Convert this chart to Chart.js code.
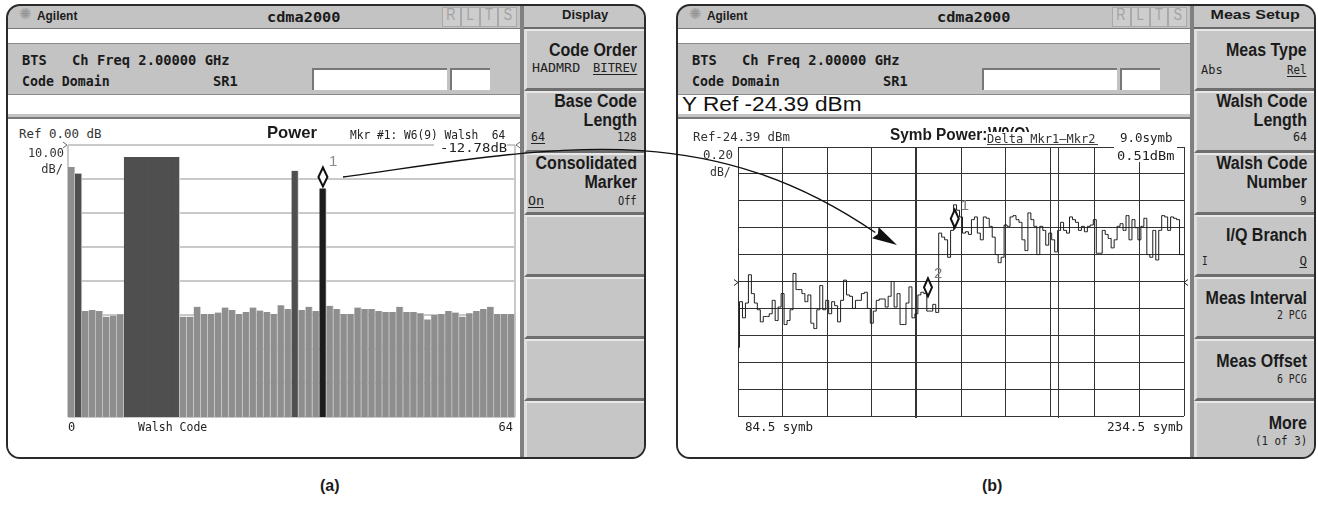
<!DOCTYPE html>
<html>
<head>
<meta charset="utf-8">
<title>cdma2000 code domain power / symbol power</title>
<script src="https://cdn.jsdelivr.net/npm/chart.js@4.4.1/dist/chart.umd.min.js"></script>
<style>
  html, body { margin: 0; padding: 0; background: #fff; }
  #page { position: relative; width: 1318px; height: 513px; overflow: hidden; background: #fff; }
  .a { position: absolute; box-sizing: border-box; }
  .t { position: absolute; white-space: pre; line-height: 1; color: #1b1b1b; }
  canvas { position: absolute; }
</style>
</head>
<body>
<div id="page"></div>
<script>
// ---------- (a) code domain power, one bar per Walsh code ----------
const walshCodes = Array.from({ length: 64 }, (_, i) => i);
const walshPowerDb = [
  -6.5, -8.4, -48.8, -48.5, -48.8, -50.5, -50.2, -49.8,
  -3.5, -3.5, -3.5, -3.5, -3.5, -3.5, -3.5, -3.5,
  -50.5, -50.5, -47.6, -49.7, -49.7, -49.3, -47.8, -48.5,
  -49.7, -49.1, -47.8, -48.7, -49.1, -49.7, -47.1, -48.2,
  -7.6, -48.5, -47.6, -48.8, -12.78, -47.3, -48.2, -49.7,
  -49.7, -47.8, -48.2, -48.2, -48.8, -49.1, -49.1, -47.6,
  -49.1, -49.1, -49.5, -51.3, -50.0, -49.7, -48.8, -49.3,
  -50.5, -49.5, -48.8, -48.2, -47.6, -49.7, -49.7, -49.7
];
const activeCodes = [1, 8, 9, 10, 11, 12, 13, 14, 15, 32];
const markerCode = 36;
const powerFloorDb = -80;
const powerTicksDb = [0, -10, -20, -30, -40, -50, -60, -70, -80];
const walshAxisLabels = ['0', 'Walsh Code', '64'];

// ---------- (b) symbol power of W9(Q) ----------
const symbStart = 84.5;
const traceStartDb = -25.88;
const symbPowerLow = [
  -25.54, -25.66, -25.55, -25.34, -25.48, -25.55, -25.60, -25.69, -25.65, -25.65,
  -25.63, -25.53, -25.68, -25.58, -25.48, -25.71, -25.68, -25.60, -25.33, -25.45,
  -25.45, -25.48, -25.54, -25.49, -25.70, -25.74, -25.60, -25.42, -25.60, -25.53,
  -25.63, -25.54, -25.57, -25.69, -25.53, -25.38, -25.49, -25.50, -25.59, -25.53,
  -25.53, -25.48, -25.47, -25.59, -25.70, -25.61, -25.53, -25.52, -25.52, -25.58,
  -25.50, -25.39, -25.58, -25.48, -25.71, -25.71, -25.55, -25.43, -25.66, -25.63,
  -25.49, -25.47, -25.48, -25.61, -25.61, -25.56, -25.62
];
const symbPowerHigh = [
  -25.03, -25.06, -25.08, -25.21, -25.01, -24.82, -24.86, -24.91, -25.03, -25.02,
  -25.04, -24.93, -24.91, -25.03, -25.08, -24.91, -24.92, -24.98, -25.06, -25.19,
  -25.25, -25.21, -24.97, -24.98, -24.91, -24.90, -24.93, -24.95, -25.08, -25.16,
  -24.88, -24.93, -24.98, -25.19, -24.98, -25.01, -25.12, -25.03, -25.08, -25.17,
  -25.01, -24.95, -25.01, -25.03, -24.91, -24.93, -24.95, -25.01, -24.98, -25.02,
  -24.98, -24.97, -24.93, -25.18, -25.18, -25.01, -25.04, -25.07, -25.14, -25.08,
  -24.98, -24.96, -25.01, -24.90, -25.08, -24.93, -24.99, -25.08, -24.98, -24.92,
  -25.19, -25.21, -25.01, -25.23, -25.01, -24.90, -24.91, -25.01, -24.91, -24.92,
  -24.93, -25.19, -25.19
];
const symbTicks = [84.5, 99.5, 114.5, 129.5, 144.5, 159.5, 174.5, 189.5, 204.5, 219.5, 234.5];
const symbPowerTicks = [-26.39, -26.19, -25.99, -25.79, -25.59, -25.39, -25.19, -24.99, -24.79, -24.59, -24.39];
const pcgBoundarySymb = 144.5;
const extraLineSymb = 192;
const refLevelDb = -25.39;
const markerSymb = [157.4, 148.4];
const markerDb = [-24.99, -25.50];
const markerNames = ['1', '2'];
const symbAxisLabels = ['84.5 symb', '234.5 symb'];

// ---------- page helpers ----------
const page = document.getElementById('page');
const pageCtx = { root: page, ox: 0, oy: 0, w: 1318 };

function frame(ox) {
  const f = document.createElement('div');
  f.className = 'a';
  Object.assign(f.style, {
    left: (ox + 6) + 'px', top: '4px', width: '640px', height: '455px',
    border: '2px solid #2a2a2a', borderRadius: '14px', background: '#c3c3c3', overflow: 'hidden'
  });
  page.appendChild(f);
  return { root: f, ox: 8, oy: 6, w: 636 };
}

function box(c, x, y, w, h, css) {
  const d = document.createElement('div');
  d.className = 'a';
  Object.assign(d.style, { left: (x - c.ox) + 'px', top: (y - c.oy) + 'px', width: w + 'px', height: h + 'px' }, css || {});
  c.root.appendChild(d);
  return d;
}

function label(c, x, cap, s, o) {
  o = o || {};
  const size = o.size || 12;
  const mono = !!o.mono;
  const d = document.createElement('div');
  d.className = 't';
  d.textContent = s;
  d.style.fontFamily = mono ? '"DejaVu Sans Mono", monospace' : '"Liberation Sans", Arial, sans-serif';
  d.style.fontWeight = o.bold ? 'bold' : 'normal';
  d.style.fontSize = size + 'px';
  if (o.color) d.style.color = o.color;
  if (o.bg) d.style.background = o.bg;
  if (o.u) { d.style.textDecoration = 'underline'; d.style.textUnderlineOffset = '2px'; }
  d.style.top = (cap - c.oy - size * (mono ? 0.117 : 0.13)) + 'px';
  const cx = x - c.ox;
  const al = o.align || 'left';
  if (al === 'right') { d.style.right = (c.w - cx) + 'px'; d.style.transformOrigin = '100% 50%'; }
  else { d.style.left = cx + 'px'; d.style.transformOrigin = '0 50%'; }
  c.root.appendChild(d);
  const nat = d.offsetWidth;
  const sx = o.w ? o.w / nat : (o.sx || 1);
  if (al === 'center') d.style.transform = `translateX(${-nat * sx / 2}px) scaleX(${sx})`;
  else d.style.transform = `scaleX(${sx})`;
  return d;
}

function instrumentShell(c, menuTitle, menuTitleW, keys) {
  // title bar
  label(c, 19, 8, '\u273A', { size: 15, color: '#9a9a9a' });
  label(c, 37, 12, 'Agilent', { bold: true, size: 12.5, w: 40 });
  label(c, 267, 12, 'cdma2000', { mono: true, bold: true, size: 14, w: 73 });
  ['R', 'L', 'T', 'S'].forEach((ch, i) => {
    box(c, 442 + i * 18.75, 7, 18.75, 20, { border: '1px solid #a9a9a9', background: '#cdcdcd' });
    label(c, 442 + i * 18.75 + 9.4, 9, ch, { size: 16, color: '#a2a2a2', align: 'center', sx: 0.8 });
  });
  box(c, 8, 28, 514, 1, { background: '#7a7a7a' });
  box(c, 8, 29, 514, 15, { background: '#fff', borderBottom: '1px solid #8a8a8a' });
  // settings band
  label(c, 22, 56, 'BTS', { mono: true, bold: true, size: 13.7, w: 25 });
  label(c, 72, 56, 'Ch Freq 2.00000 GHz', { mono: true, bold: true, size: 13.7, w: 158 });
  label(c, 22, 77, 'Code Domain', { mono: true, bold: true, size: 13.7, w: 88 });
  label(c, 213, 77, 'SR1', { mono: true, bold: true, size: 13.7, w: 25 });
  box(c, 312, 68, 135, 22, { background: '#fff', borderTop: '2px solid #777', borderLeft: '2px solid #777' });
  box(c, 450, 68, 40, 22, { background: '#fff', borderTop: '2px solid #777', borderLeft: '2px solid #777' });
  box(c, 8, 94, 514, 20, { background: '#fff', borderTop: '1px solid #8a8a8a' });
  // graticule area
  box(c, 8, 117, 512, 360, { background: '#fff', borderTop: '2px solid #7a7a7a' });
  // softkey column
  box(c, 520, 6, 4, 460, { background: '#808080' });
  box(c, 524, 6, 122, 23, { background: '#c6c6c6', borderBottom: '2px solid #6a6a6a' });
  label(c, 585, 10, menuTitle, { bold: true, size: 13, align: 'center', w: menuTitleW });
  [29, 91, 153, 215, 277, 339, 401].forEach(top => {
    box(c, 524, top, 122, 62, {
      background: '#c6c6c6', borderTop: '2px solid #e8e8e8', borderLeft: '3px solid #e0e0e0',
      borderBottom: '3px solid #6e6e6e', borderRight: '1px solid #8a8a8a'
    });
  });
  keys.forEach(k => {
    if (k.b) label(c, 637, k.y, k.s, { bold: true, size: 18, align: 'right', sx: 0.89 });
    else label(c, k.x || 637, k.y, k.s, { mono: true, size: 12.5, align: k.x ? 'left' : 'right', u: k.u, w: k.w, color: '#222' });
  });
}

function diamond(ctx, x, cy, hw, hh) {
  ctx.beginPath();
  ctx.moveTo(x, cy - hh); ctx.lineTo(x + hw, cy); ctx.lineTo(x, cy + hh); ctx.lineTo(x - hw, cy); ctx.closePath();
  ctx.fillStyle = '#fff'; ctx.fill();
  ctx.lineWidth = 2; ctx.strokeStyle = '#111'; ctx.stroke();
}

function addCanvas(c, x, y, w, h) {
  const cv = document.createElement('canvas');
  cv.width = w; cv.height = h;
  cv.style.left = (x - c.ox) + 'px'; cv.style.top = (y - c.oy) + 'px';
  cv.style.width = w + 'px'; cv.style.height = h + 'px';
  c.root.appendChild(cv);
  return cv;
}

// ================= left instrument (a) =================
const L = frame(0);
instrumentShell(L, 'Display', 46, [
  { b: 1, s: 'Code Order', y: 43 }, { x: 532, s: 'HADMRD', y: 63, w: 48 }, { s: 'BITREV', y: 63, u: 1, w: 44 },
  { b: 1, s: 'Base Code', y: 94 }, { b: 1, s: 'Length', y: 113 }, { x: 531, s: '64', y: 132, u: 1, w: 14 }, { s: '128', y: 132, w: 20 },
  { b: 1, s: 'Consolidated', y: 156 }, { b: 1, s: 'Marker', y: 175 }, { x: 528, s: 'On', y: 196, u: 1, w: 16 }, { s: 'Off', y: 196, w: 19 }
]);

const leftDecor = {
  id: 'leftDecor',
  beforeDatasetsDraw(chart) {
    const { ctx, chartArea: a } = chart;
    ctx.save();
    ctx.strokeStyle = '#c9c9c9'; ctx.lineWidth = 2;
    ctx.beginPath();
    ctx.moveTo(a.left, a.top); ctx.lineTo(a.left, a.bottom);
    ctx.moveTo(a.right, a.top); ctx.lineTo(a.right, a.bottom);
    ctx.stroke();
    ctx.restore();
  },
  afterDatasetsDraw(chart) {
    const { ctx, chartArea: a, scales: { x, y } } = chart;
    ctx.save();
    const px = x.getPixelForValue(markerCode);
    const top = y.getPixelForValue(walshPowerDb[markerCode]);
    diamond(ctx, px, top - 11.5, 4.5, 9.5);
    ctx.fillStyle = '#8a8a8a';
    ctx.font = '15px "Liberation Sans", Arial, sans-serif';
    ctx.fillText('1', px + 6, top - 22);
    // reference level chevrons
    ctx.strokeStyle = '#666'; ctx.lineWidth = 1;
    const ry = y.getPixelForValue(0);
    ctx.beginPath();
    ctx.moveTo(a.left - 5, ry - 3); ctx.lineTo(a.left - 1, ry); ctx.lineTo(a.left - 5, ry + 3);
    ctx.moveTo(a.right + 5, ry - 3); ctx.lineTo(a.right + 1, ry); ctx.lineTo(a.right + 5, ry + 3);
    ctx.stroke();
    ctx.restore();
  }
};

const cvL = addCanvas(L, 62, 141, 459, 280);
new Chart(cvL.getContext('2d'), {
  type: 'bar',
  data: {
    labels: walshCodes.map(String),
    datasets: [{
      data: walshPowerDb.map(v => [powerFloorDb, v]),
      backgroundColor: walshCodes.map(c => c === markerCode ? '#1c1c1c' : activeCodes.includes(c) ? '#4f4f4f' : '#8e8e8e'),
      borderColor: walshCodes.map(c => (c >= 8 && c <= 14) ? '#4f4f4f' : '#d4d4d4'),
      borderWidth: { top: 1, right: 1, left: 0, bottom: 0 },
      borderSkipped: 'start',
      barPercentage: 1,
      categoryPercentage: 1
    }]
  },
  options: {
    responsive: false, animation: false, devicePixelRatio: 1,
    layout: { padding: { left: 6, right: 6, top: 4, bottom: 4 } },
    plugins: { legend: { display: false }, tooltip: { enabled: false } },
    scales: {
      x: { display: false },
      y: {
        min: powerFloorDb, max: 0,
        afterBuildTicks: s => { s.ticks = powerTicksDb.map(v => ({ value: v })); },
        ticks: { display: false },
        grid: { color: '#c9c9c9', lineWidth: 2, drawTicks: false },
        border: { display: false }
      }
    }
  },
  plugins: [leftDecor]
});

label(L, 19, 129, 'Ref 0.00 dB', { mono: true, size: 12, w: 82, color: '#333' });
label(L, 267, 126, 'Power', { bold: true, size: 17, w: 50 });
label(L, 350, 131, 'Mkr #1: W6(9) Walsh  64', { mono: true, size: 11.5, w: 155, color: '#222' });
box(L, 434, 140, 73, 16, { background: '#fff' });
label(L, 440, 143, '-12.78dB', { mono: true, size: 12.5, w: 67, color: '#222' });
label(L, 64, 148, '10.00', { mono: true, size: 12, align: 'right', w: 36, color: '#333' });
label(L, 63, 164, 'dB/', { mono: true, size: 12, align: 'right', w: 22, color: '#333' });
label(L, 68, 422, walshAxisLabels[0], { mono: true, size: 12, w: 7, color: '#222' });
label(L, 138, 422, walshAxisLabels[1], { mono: true, size: 12, w: 69, color: '#222' });
label(L, 513, 422, walshAxisLabels[2], { mono: true, size: 12, align: 'right', w: 14, color: '#222' });

// ================= right instrument (b) =================
const R = frame(670);
const rx = x => x - 670;
instrumentShell(R, 'Meas Setup', 89, [
  { b: 1, s: 'Meas Type', y: 43 }, { x: 531, s: 'Abs', y: 65, w: 22 }, { s: 'Rel', y: 65, u: 1, w: 20 },
  { b: 1, s: 'Walsh Code', y: 94 }, { b: 1, s: 'Length', y: 113 }, { s: '64', y: 132, w: 14 },
  { b: 1, s: 'Walsh Code', y: 156 }, { b: 1, s: 'Number', y: 175 }, { s: '9', y: 196, w: 7 },
  { b: 1, s: 'I/Q Branch', y: 228 }, { x: 532, s: 'I', y: 256, w: 6 }, { s: 'Q', y: 256, u: 1, w: 8 },
  { b: 1, s: 'Meas Interval', y: 291 }, { s: '2 PCG', y: 310, w: 30 },
  { b: 1, s: 'Meas Offset', y: 354 }, { s: '6 PCG', y: 374, w: 30 },
  { b: 1, s: 'More', y: 416 }, { s: '(1 of 3)', y: 436, w: 52 }
]);

const rightDecor = {
  id: 'rightDecor',
  afterDatasetsDraw(chart) {
    const { ctx, chartArea: a, scales: { x, y } } = chart;
    ctx.save();
    ctx.strokeStyle = '#3a3a3a'; ctx.lineWidth = 1;
    const ex = Math.round(x.getPixelForValue(extraLineSymb)) + 0.5;
    ctx.beginPath(); ctx.moveTo(ex, a.top); ctx.lineTo(ex, a.bottom + 2); ctx.stroke();
    const px = Math.round(x.getPixelForValue(pcgBoundarySymb));
    ctx.lineWidth = 2;
    ctx.beginPath(); ctx.moveTo(px, a.bottom); ctx.lineTo(px, a.bottom + 2); ctx.stroke();
    // reference level marks at both ends
    const ry = Math.round(y.getPixelForValue(refLevelDb)) + 0.5;
    ctx.lineWidth = 1; ctx.strokeStyle = '#222';
    ctx.beginPath();
    ctx.moveTo(a.left - 4, ry - 3); ctx.lineTo(a.left, ry); ctx.lineTo(a.left - 4, ry + 3);
    ctx.moveTo(a.right + 4, ry - 3); ctx.lineTo(a.right, ry); ctx.lineTo(a.right + 4, ry + 3);
    ctx.stroke();
    // markers
    markerSymb.forEach((s, i) => {
      const mx = x.getPixelForValue(s);
      const my = y.getPixelForValue(markerDb[i]);
      diamond(ctx, mx, my - 9, 4, 9);
      ctx.fillStyle = '#7a7a7a';
      ctx.font = '15px "Liberation Sans", Arial, sans-serif';
      ctx.fillText(markerNames[i], mx + 6, my - 18);
    });
    ctx.restore();
  }
};

const tracePoints = [traceStartDb, ...symbPowerLow, ...symbPowerHigh].map((v, i) => ({ x: symbStart + i, y: v }));
const cvR = addCanvas(R, rx(732), 143, 458, 277);
new Chart(cvR.getContext('2d'), {
  type: 'line',
  data: {
    datasets: [{
      data: tracePoints,
      stepped: 'middle',
      borderColor: '#1e1e1e',
      borderWidth: 1,
      pointRadius: 0,
      fill: false
    }]
  },
  options: {
    responsive: false, animation: false, devicePixelRatio: 1,
    layout: { padding: { left: 6, right: 6, top: 4, bottom: 4 } },
    plugins: { legend: { display: false }, tooltip: { enabled: false } },
    scales: {
      x: {
        type: 'linear', min: symbTicks[0], max: symbTicks[symbTicks.length - 1],
        afterBuildTicks: s => { s.ticks = symbTicks.map(v => ({ value: v })); },
        ticks: { display: false },
        grid: { color: '#333', lineWidth: c => (c.tick && c.tick.value === pcgBoundarySymb ? 2 : 1), drawTicks: false },
        border: { display: false }
      },
      y: {
        type: 'linear', min: symbPowerTicks[0], max: symbPowerTicks[symbPowerTicks.length - 1],
        afterBuildTicks: s => { s.ticks = symbPowerTicks.map(v => ({ value: v })); },
        ticks: { display: false },
        grid: { color: '#333', lineWidth: 1, drawTicks: false },
        border: { display: false }
      }
    }
  },
  plugins: [rightDecor]
});

label(R, rx(682), 98, 'Y Ref -24.39 dBm', { size: 19.5, w: 180, color: '#111' });
label(R, rx(693), 132, 'Ref-24.39 dBm', { mono: true, size: 12, w: 97, color: '#333' });
label(R, rx(890), 129, 'Symb Power:', { bold: true, size: 16, w: 97 });
label(R, rx(988), 128, 'W9(Q)', { bold: true, size: 16, w: 42 });
box(R, rx(986), 132, 112, 12, { background: '#fff' });
label(R, rx(987), 134, 'Delta Mkr1\u2013Mkr2', { mono: true, size: 12, w: 108, color: '#333' });
box(R, rx(987), 144, 111, 1, { background: '#444' });
label(R, rx(1120), 133, '9.0symb', { mono: true, size: 12, w: 53, color: '#222' });
box(R, rx(1114), 146, 63, 16, { background: '#fff' });
label(R, rx(1117), 151, '0.51dBm', { mono: true, size: 12, w: 58, color: '#222' });
label(R, rx(733), 150, '0.20', { mono: true, size: 12, align: 'right', w: 30, color: '#333' });
label(R, rx(731), 167, 'dB/', { mono: true, size: 12, align: 'right', w: 21, color: '#333' });
label(R, rx(745), 422, symbAxisLabels[0], { mono: true, size: 12, w: 68, color: '#222' });
label(R, rx(1183), 422, symbAxisLabels[1], { mono: true, size: 12, align: 'right', w: 76, color: '#222' });

// ---------- captions ----------
label(pageCtx, 330, 480, '(a)', { bold: true, size: 16, align: 'center' });
label(pageCtx, 992, 480, '(b)', { bold: true, size: 16, align: 'center' });

// ---------- callout arrow from marker 1 in (a) to the W9 trace in (b) ----------
const arrowFrom = [343, 177], arrowC1 = [540, 150], arrowC2 = [700, 112], arrowTo = [897, 245];
const svgNS = 'http://www.w3.org/2000/svg';
const svg = document.createElementNS(svgNS, 'svg');
svg.setAttribute('width', 1318); svg.setAttribute('height', 513);
svg.style.position = 'absolute'; svg.style.left = '0'; svg.style.top = '0';
const ang = 0.52;
const back = [arrowTo[0] - 25 * Math.cos(ang), arrowTo[1] - 25 * Math.sin(ang)];
const path = document.createElementNS(svgNS, 'path');
path.setAttribute('d', `M${arrowFrom} C${arrowC1} ${arrowC2} ${back}`);
path.setAttribute('fill', 'none'); path.setAttribute('stroke', '#111'); path.setAttribute('stroke-width', '1.3');
svg.appendChild(path);
const nx = -Math.sin(ang) * 6.5, ny = Math.cos(ang) * 6.5;
const head = document.createElementNS(svgNS, 'polygon');
head.setAttribute('points', `${arrowTo} ${back[0] + nx},${back[1] + ny} ${back[0] + 3 * Math.cos(ang)},${back[1] + 3 * Math.sin(ang)} ${back[0] - nx},${back[1] - ny}`);
head.setAttribute('fill', '#111');
svg.appendChild(head);
page.appendChild(svg);
</script>
</body>
</html>
